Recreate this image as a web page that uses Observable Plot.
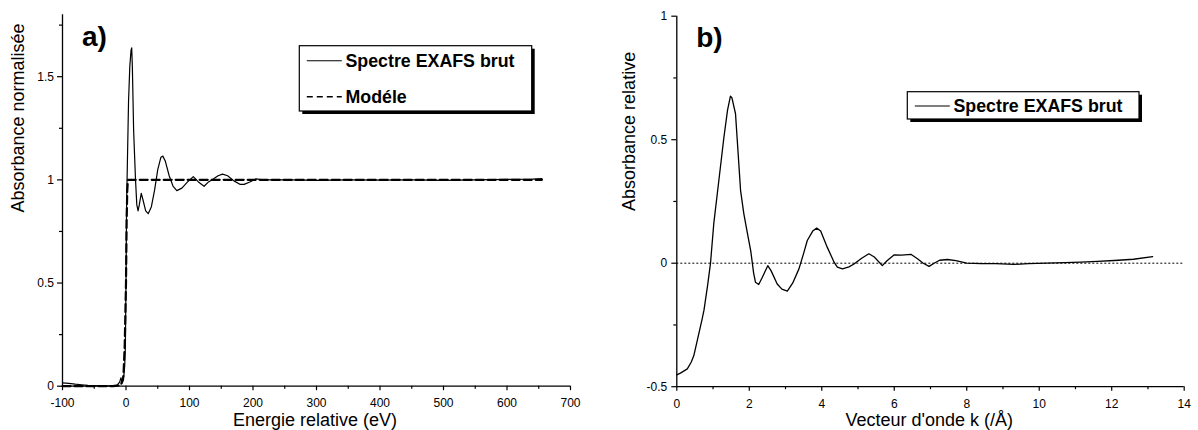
<!DOCTYPE html>
<html><head><meta charset="utf-8">
<script src="https://cdn.jsdelivr.net/npm/d3@7"></script>
<script src="https://cdn.jsdelivr.net/npm/@observablehq/plot@0.6"></script>
<style>
body{margin:0;background:#fff;}
#wrap{display:flex;width:1198px;height:430px;}
#wrap svg{overflow:visible;}
</style></head><body><div id="wrap"><div id="pa"></div><div id="pb"></div></div>
<script>
// ---- Panel a) data ----
const energy = [-100,-90,-80,-70,-60,-50,-40,-30,-20,-14,-10,-8,-6,-4,-2,-1,0,1,2,4,6,8,9,10,12,15,17,19,21,24,27,31,35,40,45,50,55,58,62,68,74,80,88,97,106,114,123,130,138,145,152,160,170,180,186,195,205,215,230,260,300,350,400,450,500,550,600,640,655];
const rawAbs = [0.016,0.014,0.010,0.007,0.004,0.003,0.002,0.002,0.003,0.005,0.020,0.040,0.015,0.030,0.10,0.19,0.50,0.90,1.05,1.38,1.55,1.63,1.64,1.55,1.24,1.00,0.88,0.85,0.88,0.935,0.90,0.85,0.836,0.87,0.95,1.05,1.11,1.115,1.09,1.02,0.97,0.948,0.96,0.99,1.016,0.99,0.969,0.99,1.005,1.02,1.028,1.02,0.995,0.978,0.978,0.99,1.005,1.0,1.0,1.0,0.998,1.0,0.999,1.0,0.998,1.0,1.002,1.004,1.006];
const modelEnergy = [-100,-20,-8,-4,-2,0,1,2,3,655];
const modelAbs = [0,0,0.005,0.05,0.2,0.5,0.8,0.95,1.0,1.0];
const xTicksA = [-100,0,100,200,300,400,500,600,700];
const xMinorA = [-50,50,150,250,350,450,550,650];
const yTicksA = [0,0.5,1,1.5];
const yMinorA = [0.25,0.75,1.25,1.75];

// ---- Panel b) data ----
const kVals = [0,0.1,0.29,0.4,0.47,0.6,0.7,0.75,0.85,0.93,1.02,1.16,1.3,1.4,1.48,1.52,1.62,1.76,1.85,1.95,2.04,2.12,2.17,2.26,2.35,2.51,2.6,2.77,2.9,3.05,3.2,3.37,3.5,3.6,3.75,3.86,3.97,4.15,4.34,4.43,4.57,4.75,4.89,5.1,5.3,5.45,5.67,5.8,6.0,6.2,6.46,6.64,6.8,6.96,7.1,7.25,7.47,7.7,8.0,8.4,8.8,9.3,9.7,10.2,10.7,11.15,11.6,12.07,12.6,13.13];
const chiVals = [-0.452,-0.445,-0.428,-0.40,-0.374,-0.29,-0.225,-0.19,-0.09,0.0,0.16,0.335,0.51,0.62,0.676,0.67,0.605,0.294,0.2,0.12,0.05,-0.04,-0.077,-0.086,-0.06,-0.01,-0.03,-0.084,-0.105,-0.113,-0.08,-0.023,0.04,0.092,0.13,0.142,0.13,0.065,0.004,-0.016,-0.023,-0.015,-0.003,0.02,0.038,0.025,-0.01,0.01,0.034,0.033,0.036,0.018,0.0,-0.013,0.0,0.012,0.015,0.01,0.0,-0.002,-0.002,-0.005,-0.002,0.0,0.002,0.004,0.007,0.011,0.016,0.027];
const xTicksB = [0,2,4,6,8,10,12,14];
const xMinorB = [1,3,5,7,9,11,13];
const yTicksB = [-0.5,0,0.5,1];
const yMinorB = [-0.25,0.25,0.75];

const legendLabels = ["Spectre EXAFS brut", "Modéle"];

const rawA = energy.map((e,i)=>({x:e,y:rawAbs[i]}));
const modA = modelEnergy.map((e,i)=>({x:e,y:modelAbs[i]}));
const rawB = kVals.map((k,i)=>({x:k,y:chiVals[i]}));

const FONT = "'Liberation Sans', Arial, Helvetica, sans-serif";
const fmt = d => String(d);

const plotA = Plot.plot({
  width: 600, height: 430,
  marginLeft: 62, marginRight: 30, marginTop: 14.3, marginBottom: 44.3,
  style: {fontFamily: FONT, fontSize: "12px", background: "#fff", color: "#000", overflow: "visible"},
  x: {domain: [-100, 700]},
  y: {domain: [0, 1.8]},
  marks: [
    Plot.axisX(xTicksA, {tickSize: 4.5, tickPadding: 8, tickFormat: fmt, label: null, fontSize: 12, strokeWidth: 1.2}),
    Plot.axisX(xMinorA, {tickSize: 3, tickFormat: () => "", label: null, strokeWidth: 1.2}),
    Plot.axisY(yTicksA, {tickSize: 5, tickPadding: 3.5, tickFormat: fmt, label: null, fontSize: 12, strokeWidth: 1.2}),
    Plot.axisY(yMinorA, {tickSize: 3, tickFormat: () => "", label: null, strokeWidth: 1.2}),
    Plot.ruleX([-100], {strokeWidth: 1.3}),
    Plot.ruleY([0], {strokeWidth: 1.3}),
    Plot.line(modA, {x: "x", y: "y", stroke: "#000", strokeWidth: 2.2, strokeDasharray: "8,4"}),
    Plot.line(rawA, {x: "x", y: "y", stroke: "#000", strokeWidth: 1.2}),
    Plot.text(["a)"], {frameAnchor: "top-left", textAnchor: "start", lineAnchor: "top", dx: 19.5, dy: 11.5, fontSize: 28, fontWeight: "bold"}),
    Plot.text(["Absorbance normalisée"], {frameAnchor: "left", rotate: -90, dx: -44.3, dy: 12, fontSize: 18}),
    Plot.text(["Energie relative (eV)"], {frameAnchor: "bottom", dx: -1.5, dy: 39.5, fontSize: 18})
  ]
});

const plotB = Plot.plot({
  width: 598, height: 430,
  marginLeft: 76.3, marginRight: 14.3, marginTop: 15.7, marginBottom: 43.8,
  style: {fontFamily: FONT, fontSize: "12px", background: "#fff", color: "#000", overflow: "visible"},
  x: {domain: [0, 14]},
  y: {domain: [-0.5, 1]},
  marks: [
    Plot.axisX(xTicksB, {tickSize: 4.5, tickPadding: 8, tickFormat: fmt, label: null, fontSize: 12, strokeWidth: 1.2}),
    Plot.axisX(xMinorB, {tickSize: 3, tickFormat: () => "", label: null, strokeWidth: 1.2}),
    Plot.axisY(yTicksB, {tickSize: 5, tickPadding: 4.5, tickFormat: fmt, label: null, fontSize: 12, strokeWidth: 1.2}),
    Plot.axisY(yMinorB, {tickSize: 3, tickFormat: () => "", label: null, strokeWidth: 1.2}),
    Plot.ruleY([0], {strokeWidth: 1, strokeDasharray: "2,2"}),
    Plot.ruleX([0], {strokeWidth: 1.3}),
    Plot.ruleY([-0.5], {strokeWidth: 1.3}),
    Plot.line(rawB, {x: "x", y: "y", stroke: "#000", strokeWidth: 1.3}),
    Plot.text(["b)"], {frameAnchor: "top-left", textAnchor: "start", lineAnchor: "top", dx: 19.4, dy: 11, fontSize: 28, fontWeight: "bold"}),
    Plot.text(["Absorbance relative"], {frameAnchor: "left", rotate: -90, dx: -47.1, dy: 9.5, fontSize: 18}),
    Plot.text(["Vecteur d'onde k (/Å)"], {frameAnchor: "bottom", dx: -1.2, dy: 39.5, fontSize: 18})
  ]
});

document.getElementById("pa").appendChild(plotA);
document.getElementById("pb").appendChild(plotB);

function legend(svgNode, box, items) {
  const svg = d3.select(svgNode);
  const g = svg.append("g").attr("font-family", FONT).attr("text-anchor", "start");
  g.append("rect").attr("x", box.x + 3).attr("y", box.y + 3).attr("width", box.w).attr("height", box.h).attr("fill", "#000");
  g.append("rect").attr("x", box.x).attr("y", box.y).attr("width", box.w).attr("height", box.h).attr("fill", "#fff").attr("stroke", "#000").attr("stroke-width", 1.2);
  for (const it of items) {
    g.append("line").attr("x1", box.x + 7.5).attr("x2", box.x + 42.5).attr("y1", it.ly).attr("y2", it.ly)
      .attr("stroke", "#000").attr("stroke-width", it.dash ? 1.6 : 1.1).attr("stroke-dasharray", it.dash || null);
    g.append("text").attr("x", box.x + 46.2).attr("y", it.by).attr("text-anchor", "start").attr("font-size", "17.8px").attr("font-weight", "bold").attr("fill", "#000").text(it.label);
  }
}
legend(plotA, {x: 299.3, y: 45.7, w: 232.4, h: 65.3}, [
  {label: legendLabels[0], ly: 60.7, by: 66.7, dash: null},
  {label: legendLabels[1], ly: 96.7, by: 102.7, dash: "6,4"}
]);
legend(plotB, {x: 307.3, y: 91.7, w: 231.7, h: 27.3}, [
  {label: legendLabels[0], ly: 106, by: 111.7, dash: null}
]);
</script></body></html>
